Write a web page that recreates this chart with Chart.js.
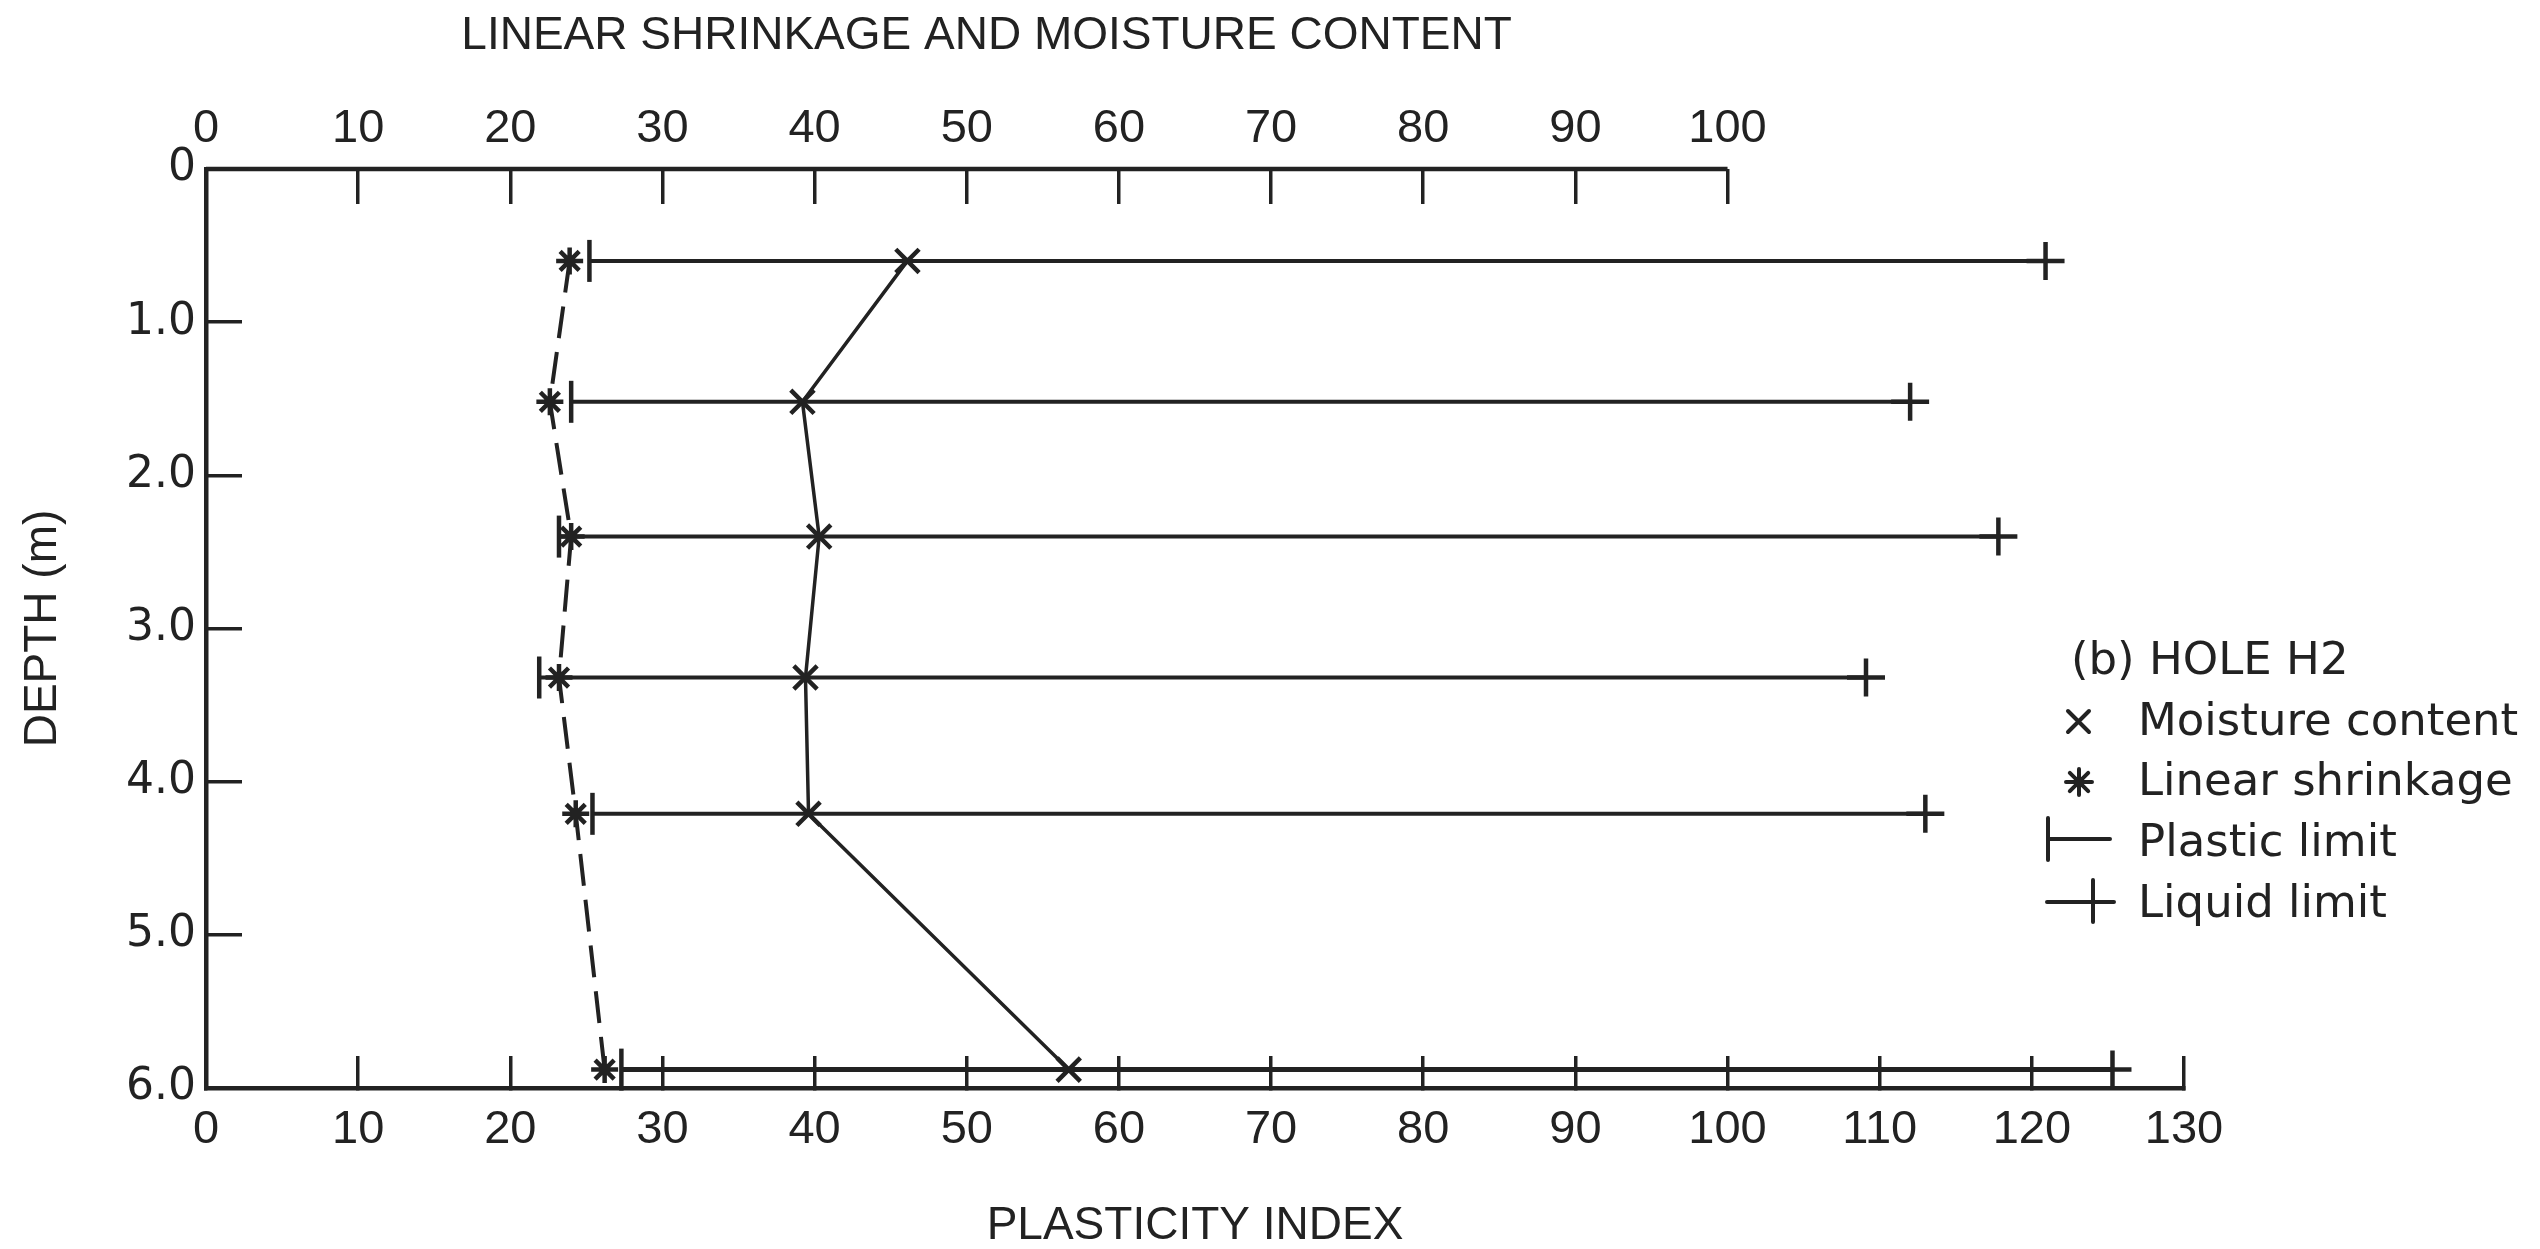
<!DOCTYPE html>
<html>
<head>
<meta charset="utf-8">
<script src="https://cdn.jsdelivr.net/npm/chart.js@4.4.1/dist/chart.umd.min.js"></script>
<style>
  html, body { margin: 0; padding: 0; background: #fff; }
</style>
</head>
<body>
<canvas id="chart" width="2540" height="1249"></canvas>
<script>
// values (depth in m, others in %)
const depths = [0.6, 1.52, 2.4, 3.32, 4.21, 5.88];
const moistureContent = [46.1, 39.2, 40.3, 39.4, 39.6, 56.7];
const linearShrinkage = [23.9, 22.6, 24.0, 23.2, 24.3, 26.2];
const plasticLimit = [25.2, 24.0, 23.2, 21.9, 25.4, 27.3];
const liquidLimit = [120.9, 112.0, 117.8, 109.1, 113.0, 125.3];

const topAxisMax = 100;   // upper scale is only labelled up to 100
const legendTitle = '(b) HOLE H2';
const legendLabels = ['Moisture content', 'Linear shrinkage', 'Plastic limit', 'Liquid limit'];

const INK = '#222';
const tickFont = { family: '"Liberation Sans", Arial, sans-serif', size: 47 };
const titleFont = { family: '"Liberation Sans", Arial, sans-serif', size: 46, lineHeight: 1 };

// one little line per sample: plastic limit -> liquid limit
const rangeSets = depths.map((d, i) => ({
    xAxisID: 'x', yAxisID: 'y',
    data: [{ x: plasticLimit[i], y: d }, { x: liquidLimit[i], y: d }],
    showLine: true,
    borderColor: INK,
    borderWidth: i === depths.length - 1 ? 5 : 4,
    pointStyle: ['line', 'cross'],
    pointRotation: [90, 0],
    pointRadius: [21, 19],
    pointBorderColor: INK,
    pointBorderWidth: 4.5,
    pointBackgroundColor: 'transparent',
    clip: false
}));

const moistureSet = {
    xAxisID: 'x2', yAxisID: 'y',
    data: depths.map((d, i) => ({ x: moistureContent[i], y: d })),
    showLine: true,
    borderColor: INK,
    borderWidth: 3.5,
    pointStyle: 'crossRot',
    pointRadius: 16.5,
    pointBorderColor: INK,
    pointBorderWidth: 4.5,
    clip: false
};

const shrinkageSet = {
    xAxisID: 'x2', yAxisID: 'y',
    data: depths.map((d, i) => ({ x: linearShrinkage[i], y: d })),
    showLine: true,
    borderColor: INK,
    borderWidth: 4,
    borderDash: [32, 14],
    pointStyle: 'star',
    pointRadius: 13.5,
    pointBorderColor: INK,
    pointBorderWidth: 4.5,
    clip: false
};

const extras = {
    id: 'extras',
    afterDraw(chart) {
        const ctx = chart.ctx;
        const top = chart.scales.x2;
        const area = chart.chartArea;
        ctx.save();
        ctx.strokeStyle = INK;
        ctx.fillStyle = INK;

        // top axis line stops at 100
        ctx.lineWidth = 4.5;
        ctx.beginPath();
        ctx.moveTo(top.getPixelForValue(0), area.top);
        ctx.lineTo(top.getPixelForValue(topAxisMax), area.top);
        ctx.stroke();

        // top axis title (sits over the 0-100 part)
        ctx.font = '46px "Liberation Sans", Arial, sans-serif';
        ctx.textAlign = 'center';
        ctx.textBaseline = 'middle';
        ctx.fillText('LINEAR SHRINKAGE AND MOISTURE CONTENT', top.getPixelForValue(51.3), 36);

        // legend
        ctx.font = '45px "DejaVu Sans", sans-serif';
        ctx.textAlign = 'left';
        ctx.textBaseline = 'alphabetic';
        ctx.fillText(legendTitle, 2071, 674);
        const baselines = [735, 795, 856, 917];
        legendLabels.forEach((t, i) => ctx.fillText(t, 2138, baselines[i]));

        ctx.lineWidth = 4;
        ctx.lineCap = 'round';
        ctx.beginPath();
        // x
        ctx.moveTo(2068, 711); ctx.lineTo(2089, 732);
        ctx.moveTo(2089, 711); ctx.lineTo(2068, 732);
        // *
        const sx = 2079, sy = 782, r = 13;
        for (let k = 0; k < 4; k++) {
            const a = k * Math.PI / 4;
            ctx.moveTo(sx - Math.cos(a) * r, sy - Math.sin(a) * r);
            ctx.lineTo(sx + Math.cos(a) * r, sy + Math.sin(a) * r);
        }
        // |--
        ctx.moveTo(2048, 818); ctx.lineTo(2048, 860);
        ctx.moveTo(2048, 839); ctx.lineTo(2110, 839);
        // --+--
        ctx.moveTo(2047, 902); ctx.lineTo(2114, 902);
        ctx.moveTo(2093, 880); ctx.lineTo(2093, 922);
        ctx.stroke();
        ctx.restore();
    }
};

new Chart(document.getElementById('chart'), {
    type: 'scatter',
    data: { datasets: [...rangeSets, moistureSet, shrinkageSet] },
    options: {
        responsive: false,
        animation: false,
        events: [],
        layout: { padding: { left: 0, right: 356, top: 0, bottom: 0 } },
        plugins: { legend: { display: false }, tooltip: { enabled: false } },
        scales: {
            x: {
                type: 'linear', position: 'bottom', min: 0, max: 130,
                ticks: { stepSize: 10, padding: 46, color: INK, font: tickFont, maxRotation: 0, autoSkip: false },
                grid: { drawOnChartArea: false, tickLength: -32, color: INK, lineWidth: 3.5 },
                border: { color: INK, width: 4.5 },
                title: { display: true, text: 'PLASTICITY INDEX', color: INK, font: titleFont, padding: { top: 0, bottom: 0 } },
                afterFit(s) { s.height = 161; }
            },
            x2: {
                type: 'linear', position: 'top', min: 0, max: 130,
                ticks: {
                    stepSize: 10, padding: 47, color: INK, font: tickFont, maxRotation: 0, autoSkip: false,
                    callback: v => v <= topAxisMax ? v : ''
                },
                grid: {
                    drawOnChartArea: false, tickLength: -35, lineWidth: 3.5,
                    color: c => (c.tick && c.tick.value <= topAxisMax) ? INK : 'rgba(0,0,0,0)'
                },
                border: { display: false },
                afterFit(s) { s.height = 169; }
            },
            y: {
                type: 'linear', position: 'left', reverse: true, min: 0, max: 6,
                ticks: {
                    stepSize: 1, padding: 46, color: INK,
                    font: { family: '"DejaVu Sans", sans-serif', size: 44 },
                    callback: v => v === 0 ? '0' : v.toFixed(1)
                },
                grid: { drawOnChartArea: false, tickLength: -36, color: INK, lineWidth: 3.5 },
                border: { color: INK, width: 4.5 },
                title: { display: true, text: 'DEPTH (m)', color: INK, font: titleFont, padding: { top: 20, bottom: 0 } },
                afterFit(s) { s.width = 206; }
            }
        }
    },
    plugins: [extras]
});
</script>
</body>
</html>
